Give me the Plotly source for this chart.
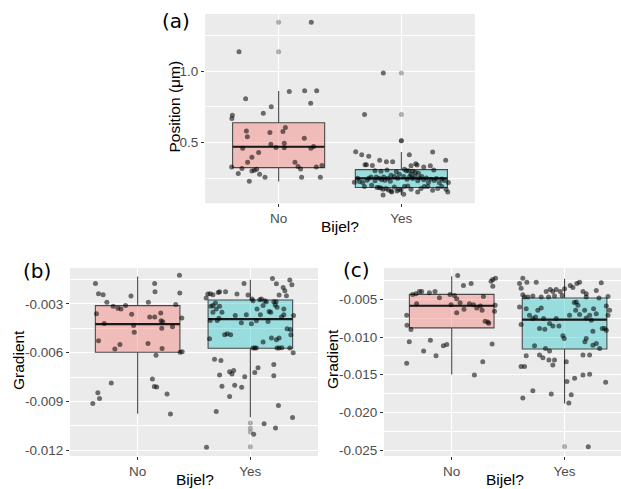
import plotly.graph_objects as go

W, H = 621, 489

# ---------------- data ----------------
categories = ["No", "Yes"]
cat_pos = [1, 2]

# Panel (a): Position (um)
a_box = {  # q1, median, q3, lower whisker, upper whisker
    "No":  [0.326, 0.472, 0.639, 0.229, 0.861],
    "Yes": [0.1875, 0.252, 0.3125, 0.136, 0.435],
}
a_outliers = {"No": [1.340, 1.134], "Yes": [0.986, 0.697, 0.514]}
a_no_dx = [0.266, -0.323, -0.269, 0.087, 0.212, 0.310, 0.261, -0.060, -0.125, -0.377,
           -0.381, 0.055, -0.263, -0.071, 0.035, -0.255, 0.209, -0.293, -0.063, -0.022,
           0.046, 0.046, 0.263, 0.285, -0.163, -0.218, -0.253, 0.133, 0.158, 0.179,
           -0.383, -0.299, 0.307, 0.353, -0.329, -0.218, -0.198, -0.179, -0.155, -0.111,
           -0.239, 0.187, 0.340]
a_no_val = [1.340, 1.134, 0.806, 0.858, 0.863, 0.863, 0.775, 0.750, 0.706, 0.692,
            0.669, 0.606, 0.581, 0.572, 0.578, 0.542, 0.531, 0.462, 0.490, 0.467,
            0.497, 0.465, 0.462, 0.474, 0.431, 0.398, 0.363, 0.363, 0.335, 0.317,
            0.330, 0.321, 0.330, 0.342, 0.285, 0.303, 0.308, 0.315, 0.280, 0.259,
            0.231, 0.259, 0.259]
a_yes_dx = [-0.147, -0.300, 0.000,
            -0.372, -0.323, -0.266, 0.065, 0.255, 0.361, -0.296, -0.285, -0.236, -0.177,
            -0.122, -0.071, 0.117, 0.128, 0.079, 0.182, 0.236, 0.025, 0.041, 0.060,
            0.092, 0.114, 0.139, 0.264, -0.041, -0.117, -0.215, -0.166,
            -0.383, -0.356, -0.342, -0.315, -0.280, -0.266, -0.247, -0.215, -0.204, -0.179,
            -0.160, -0.144, -0.133, -0.111, -0.090, -0.084, -0.057, -0.030, -0.016, 0.019,
            0.046, 0.068, 0.079, 0.092, 0.111, 0.133, 0.149, 0.166, 0.182, 0.204,
            0.220, 0.242, 0.269, 0.285, 0.310, 0.329, 0.350, 0.383,
            -0.301, -0.242, -0.198, -0.182, -0.166, -0.149, -0.125, -0.106, -0.084, -0.057,
            -0.024, -0.003, 0.025, 0.052, 0.079, 0.133, 0.160, 0.187, 0.215, 0.255,
            0.296, 0.329, 0.364, 0.378, -0.149, -0.079, 0.019, -0.035]
a_yes_val = [0.986, 0.697, 0.514,
             0.437, 0.416, 0.405, 0.416, 0.435, 0.377, 0.347, 0.347, 0.342, 0.377,
             0.368, 0.368, 0.354, 0.345, 0.340, 0.331, 0.340, 0.315, 0.305, 0.305,
             0.301, 0.294, 0.287, 0.310, 0.298, 0.310, 0.305, 0.301,
             0.224, 0.252, 0.229, 0.222, 0.238, 0.252, 0.261, 0.234, 0.261, 0.252,
             0.241, 0.261, 0.238, 0.252, 0.231, 0.273, 0.264, 0.252, 0.280, 0.264,
             0.245, 0.264, 0.278, 0.250, 0.266, 0.234, 0.254, 0.264, 0.241, 0.254,
             0.222, 0.245, 0.236, 0.250, 0.220, 0.247, 0.236, 0.222,
             0.194, 0.203, 0.187, 0.187, 0.185, 0.176, 0.180, 0.171, 0.164, 0.192,
             0.176, 0.171, 0.194, 0.199, 0.176, 0.157, 0.180, 0.194, 0.194, 0.169,
             0.180, 0.194, 0.176, 0.157, 0.136, 0.157, 0.141, 0.164]

# Panel (b): Gradient
b_box = {
    "No":  [-0.00597, -0.00424, -0.00310, -0.00976, -0.00131],
    "Yes": [-0.00573, -0.00394, -0.00276, -0.00997, -0.00151],
}
b_outliers = {"No": [], "Yes": [-0.01033, -0.01066, -0.01088, -0.01180]}
b_no_dx = [-0.374, -0.347, -0.306, -0.273, -0.217, -0.175, -0.148, -0.107, -0.059, -0.365,
           -0.297, -0.347, -0.202, -0.157, -0.053, -0.036, -0.030, 0.095, 0.107, 0.151,
           0.151, 0.154, 0.205, 0.208, 0.214, 0.223, 0.092, 0.163, 0.217, 0.338,
           0.371, 0.374, 0.392, 0.377, 0.395, 0.309, 0.131, 0.148, 0.169, 0.261,
           0.291, -0.234, -0.353, -0.338, -0.398]
b_no_val = [-0.00174, -0.00237, -0.00243, -0.00290, -0.00314, -0.00326, -0.00331, -0.00310, -0.00251, -0.00361,
            -0.00420, -0.00526, -0.00577, -0.00550, -0.00363, -0.00432, -0.00475, -0.00290, -0.00381, -0.00381,
            -0.00174, -0.00225, -0.00355, -0.00404, -0.00449, -0.00410, -0.00544, -0.00616, -0.00575, -0.00304,
            -0.00123, -0.00233, -0.00386, -0.00597, -0.00595, -0.00441, -0.00762, -0.00809, -0.00811, -0.00854,
            -0.00978, -0.00787, -0.00846, -0.00882, -0.00913]
b_yes_dx = [-0.392, -0.377, -0.356, -0.332, -0.285, -0.273, -0.220, -0.119, -0.056, -0.021,
            0.015, 0.024, 0.083, 0.098, 0.128, 0.142, 0.196, 0.231, 0.255, 0.291,
            0.306, 0.320, 0.350, 0.368, 0.228, 0.208, -0.350, -0.332, -0.309, -0.303,
            -0.273, -0.252, -0.332, -0.356, -0.294, -0.279, -0.228, -0.205, -0.175, -0.134,
            -0.080, -0.036, 0.009, 0.053, 0.059, 0.089, 0.113, 0.157, 0.166, 0.181,
            0.220, 0.237, 0.276, 0.297, 0.297, 0.326, 0.356, 0.359, 0.383, 0.231,
            0.255, 0.187, 0.113, 0.024, 0.039, 0.053, 0.237, 0.255, 0.279, 0.350,
            0.380, -0.362, -0.318, -0.261, -0.273, -0.252, -0.184, -0.163, -0.148, -0.139,
            -0.077, -0.184, -0.050, 0.039, 0.068, 0.208, 0.208, 0.249, 0.374, 0.223,
            0.122, 0.030, -0.303, -0.389]
b_yes_val = [-0.00263, -0.00239, -0.00237, -0.00243, -0.00229, -0.00225, -0.00225, -0.00239, -0.00174, -0.00245,
             -0.00269, -0.00280, -0.00274, -0.00269, -0.00280, -0.00286, -0.00143, -0.00176, -0.00245, -0.00198,
             -0.00219, -0.00249, -0.00153, -0.00182, -0.00286, -0.00286, -0.00314, -0.00310, -0.00294, -0.00331,
             -0.00314, -0.00351, -0.00351, -0.00402, -0.00402, -0.00388, -0.00489, -0.00483, -0.00489, -0.00371,
             -0.00416, -0.00367, -0.00422, -0.00404, -0.00331, -0.00367, -0.00310, -0.00408, -0.00347, -0.00351,
             -0.00306, -0.00320, -0.00381, -0.00331, -0.00367, -0.00453, -0.00457, -0.00489, -0.00371, -0.00520,
             -0.00510, -0.00510, -0.00534, -0.00571, -0.00571, -0.00571, -0.00571, -0.00571, -0.00569, -0.00571,
             -0.00601, -0.00514, -0.00640, -0.00648, -0.00738, -0.00807, -0.00718, -0.00732, -0.00709, -0.00801,
             -0.00813, -0.00870, -0.00748, -0.00722, -0.00693, -0.00673, -0.00742, -0.00925, -0.00999, -0.01064,
             -0.01037, -0.01102, -0.00962, -0.01182]

# Panel (c): Gradient
c_box = {
    "No":  [-0.00878, -0.00584, -0.00434, -0.01498, -0.00192],
    "Yes": [-0.01159, -0.00768, -0.00482, -0.01880, -0.00227],
}
c_outliers = {"No": [], "Yes": [-0.02452]}
c_no_dx = [-0.346, -0.317, -0.287, -0.266, -0.198, -0.148, -0.109, -0.015, 0.024, 0.053,
           0.104, 0.172, -0.399, -0.396, -0.361, -0.311, -0.376, -0.249, -0.189, -0.139,
           -0.074, -0.044, -0.006, 0.044, 0.044, 0.074, 0.109, 0.157, 0.192, 0.222,
           0.254, 0.281, 0.349, 0.364, 0.388, 0.364, 0.379, 0.385, 0.296, 0.328,
           0.269, 0.275, 0.201, 0.358, -0.399, 0.320]
c_no_val = [-0.00434, -0.00425, -0.00395, -0.00395, -0.00412, -0.00395, -0.00478, -0.00434, -0.00447, -0.00184,
            -0.00315, -0.00289, -0.00711, -0.00843, -0.00900, -0.00557, -0.01063, -0.01186, -0.01041, -0.01247,
            -0.01115, -0.01098, -0.00570, -0.00491, -0.00676, -0.00544, -0.00632, -0.00557, -0.00570, -0.00614,
            -0.00588, -0.00460, -0.00258, -0.00236, -0.00219, -0.00324, -0.00658, -0.00579, -0.00790, -0.00816,
            -0.00645, -0.01326, -0.01502, -0.01093, -0.01348, -0.00799]
c_yes_dx = [-0.399, -0.370, -0.334, -0.251, -0.163, -0.127, -0.104, -0.074, -0.038, 0.000,
            0.050, 0.074, 0.109, 0.133, 0.163, 0.192, 0.281, 0.325, 0.385, -0.385,
            -0.370, -0.355, -0.325, -0.281, -0.207, -0.142, -0.089, -0.021, 0.086, 0.104,
            0.192, 0.305, -0.399, -0.385, -0.340, -0.311, -0.281, -0.257, -0.237, -0.207,
            -0.186, -0.222, -0.175, -0.133, -0.104, -0.074, -0.050, -0.015, -0.003, 0.044,
            0.098, 0.118, 0.133, 0.178, 0.192, 0.222, 0.237, 0.257, 0.281, 0.334,
            0.370, 0.385, 0.370, 0.399, 0.355, 0.251, 0.192, 0.180, 0.251, 0.281,
            0.311, 0.222, 0.163, -0.222, -0.192, -0.139, -0.104, -0.089, -0.133, -0.169,
            -0.266, -0.340, -0.385, -0.355, -0.281, -0.370, -0.118, 0.015, 0.021, 0.059,
            0.038, 0.089, 0.163, 0.222, 0.364, 0.210]
c_yes_val = [-0.00289, -0.00219, -0.00271, -0.00271, -0.00395, -0.00368, -0.00395, -0.00368, -0.00395, -0.00359,
             -0.00315, -0.00342, -0.00289, -0.00271, -0.00395, -0.00425, -0.00381, -0.00280, -0.00460, -0.00351,
             -0.00438, -0.00469, -0.00469, -0.00456, -0.00469, -0.00469, -0.00456, -0.00447, -0.00540, -0.00535,
             -0.00469, -0.00482, -0.00601, -0.00834, -0.00623, -0.00711, -0.00755, -0.00733, -0.00645, -0.00614,
             -0.00755, -0.00887, -0.00896, -0.00821, -0.00852, -0.00755, -0.00852, -0.00984, -0.01019, -0.00711,
             -0.00645, -0.00579, -0.00702, -0.00645, -0.00746, -0.00711, -0.00777, -0.00623, -0.00689, -0.00887,
             -0.00909, -0.00711, -0.00588, -0.00645, -0.00887, -0.00922, -0.01019, -0.01063, -0.01107, -0.01085,
             -0.01151, -0.01238, -0.01238, -0.01238, -0.01274, -0.01304, -0.01370, -0.01304, -0.01186, -0.01151,
             -0.01115, -0.01247, -0.01392, -0.01392, -0.01713, -0.01810, -0.01757, -0.01326, -0.01590, -0.01766,
             -0.01876, -0.01546, -0.01502, -0.01493, -0.01599, -0.02456]

a_yticks = [0.5, 1.0]
a_yticktext = ["0.5", "1.0"]
a_minor = [0.25, 0.75, 1.25]
b_yticks = [-0.003, -0.006, -0.009, -0.012]
b_yticktext = ["-0.003", "-0.006", "-0.009", "-0.012"]
b_minor = [-0.0015, -0.0045, -0.0075, -0.0105]
c_yticks = [-0.005, -0.010, -0.015, -0.020, -0.025]
c_yticktext = ["-0.005", "-0.010", "-0.015", "-0.020", "-0.025"]
c_minor = [-0.0025, -0.0075, -0.0125, -0.0175, -0.0225]

panel_labels = ["(a)", "(b)", "(c)"]
y_titles = ["Position (μm)", "Gradient", "Gradient"]
x_title = "Bijel?"

# ---------------- style ----------------
FILL = {"No": "rgba(248,118,109,0.40)", "Yes": "rgba(0,191,196,0.35)"}
BOXLINE = "#4a4a4a"
PT = "rgba(0,0,0,0.55)"
OUT = "rgba(0,0,0,0.28)"
BG = "#EBEBEB"
FONT = "Liberation Sans, Arial, sans-serif"
BOXW = 0.75

def fx(px):
    return px / W

def fy(py):
    return 1 - py / H

fig = go.Figure()

panels = [
    ("x", "y", a_box, a_outliers, [(a_no_dx, a_no_val), (a_yes_dx, a_yes_val)]),
    ("x2", "y2", b_box, b_outliers, [(b_no_dx, b_no_val), (b_yes_dx, b_yes_val)]),
    ("x3", "y3", c_box, c_outliers, [(c_no_dx, c_no_val), (c_yes_dx, c_yes_val)]),
]

for xa, ya, box, outl, pts in panels:
    for cat, pos in zip(categories, cat_pos):
        q1, med, q3, lo, hi = box[cat]
        fig.add_trace(go.Box(
            x=[pos], q1=[q1], median=[med], q3=[q3], lowerfence=[lo], upperfence=[hi],
            width=BOXW, whiskerwidth=0, fillcolor=FILL[cat],
            line=dict(color=BOXLINE, width=1.1), boxpoints=False,
            xaxis=xa, yaxis=ya, hoverinfo="skip", showlegend=False))
        fig.add_trace(go.Scatter(
            x=[pos - BOXW / 2, pos + BOXW / 2], y=[med, med], mode="lines",
            line=dict(color="#1a1a1a", width=2.2), xaxis=xa, yaxis=ya,
            hoverinfo="skip", showlegend=False))
        if outl[cat]:
            fig.add_trace(go.Scatter(
                x=[pos] * len(outl[cat]), y=outl[cat], mode="markers",
                marker=dict(color=OUT, size=5, line=dict(width=0)),
                xaxis=xa, yaxis=ya, hoverinfo="skip", showlegend=False))
    for (dx, val), pos in zip(pts, cat_pos):
        fig.add_trace(go.Scatter(
            x=[pos + d for d in dx], y=val, mode="markers",
            marker=dict(color=PT, size=5, line=dict(width=0)),
            xaxis=xa, yaxis=ya, hoverinfo="skip", showlegend=False))

tickfont = dict(family=FONT, size=13.5, color="#4D4D4D")

def xaxis(domain, anchor, rng):
    return dict(domain=domain, anchor=anchor, range=rng, tickvals=cat_pos,
                ticktext=categories, showgrid=True, gridcolor="white", gridwidth=1.2,
                zeroline=False, ticks="outside", ticklen=3, tickcolor="#333333",
                tickwidth=1, tickfont=tickfont, showline=False, fixedrange=True)

def yaxis(domain, anchor, rng, tv, tt, minor):
    return dict(domain=domain, anchor=anchor, range=rng, tickvals=tv, ticktext=tt,
                showgrid=True, gridcolor="white", gridwidth=1.2, zeroline=False,
                ticks="outside", ticklen=3, tickcolor="#333333", tickwidth=1,
                tickfont=tickfont, showline=False, fixedrange=True,
                minor=dict(tickmode="array", tickvals=minor, showgrid=True,
                           gridcolor="white", gridwidth=0.6, ticks=""))

fig.update_layout(
    width=W, height=H, margin=dict(l=0, r=0, t=0, b=0),
    paper_bgcolor="white", plot_bgcolor=BG, showlegend=False,
    xaxis=xaxis([fx(205), fx(475)], "y", [0.4, 2.6]),
    yaxis=yaxis([fy(204), fy(14)], "x", [0.0785, 1.398], a_yticks, a_yticktext, a_minor),
    xaxis2=xaxis([fx(70), fx(318)], "y2", [0.4, 2.6]),
    yaxis2=yaxis([fy(458), fy(269)], "x2", [-0.01237, -0.00078], b_yticks, b_yticktext, b_minor),
    xaxis3=xaxis([fx(384), 1.0], "y3", [0.4, 2.5]),
    yaxis3=yaxis([fy(458), fy(269)], "x3", [-0.0258, -0.00082], c_yticks, c_yticktext, c_minor),
)

ann = []
# panel labels
for lab, (px, py) in zip(panel_labels, [(176, 21), (36.5, 272), (356.5, 271.5)]):
    ann.append(dict(text=lab, x=fx(px), y=fy(py), xref="paper", yref="paper",
                    showarrow=False, xanchor="center", yanchor="middle",
                    font=dict(family="DejaVu Sans, sans-serif", size=20, color="black")))
# y titles
for t, (px, py) in zip(y_titles, [(175, 107), (18.5, 362), (332.5, 361)]):
    ann.append(dict(text=t, x=fx(px), y=fy(py), xref="paper", yref="paper",
                    showarrow=False, xanchor="center", yanchor="middle", textangle=-90,
                    font=dict(family=FONT, size=15.5, color="black")))
# x titles
for (px, py) in [(340, 227), (194.5, 481.5), (505, 481)]:
    ann.append(dict(text=x_title, x=fx(px), y=fy(py), xref="paper", yref="paper",
                    showarrow=False, xanchor="center", yanchor="middle",
                    font=dict(family=FONT, size=15.5, color="black")))
fig.update_layout(annotations=ann)

fig.write_html("out.html", config={"displayModeBar": False},
               post_script="document.body.style.margin='0';")
